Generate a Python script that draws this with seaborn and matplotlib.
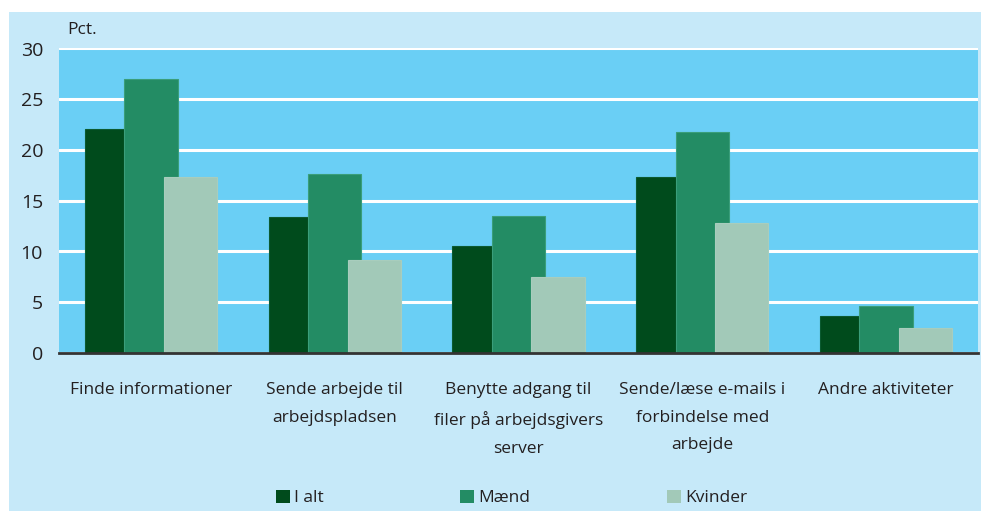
import matplotlib
matplotlib.use("Agg")
import matplotlib.pyplot as plt
import seaborn as sns
import pandas as pd
from matplotlib.patches import Rectangle, Patch

categories = ["Finde informationer",
              "Sende arbejde til\narbejdspladsen",
              "Benytte adgang til\nfiler på arbejdsgivers\nserver",
              "Sende/læse e-mails i\nforbindelse med\narbejde",
              "Andre aktiviteter"]
series_names = ["I alt", "Mænd", "Kvinder"]
i_alt = [22.1, 13.4, 10.5, 17.3, 3.6]
maend = [27.0, 17.6, 13.5, 21.8, 4.6]
kvinder = [17.3, 9.2, 7.5, 12.8, 2.5]
yticks = [0, 5, 10, 15, 20, 25, 30]

colors = ["#004B1C", "#238C64", "#A2C9B8"]
edge_colors = ["#0B5A30", "#3A9E7A", "#A8CDBD"]

sns.set_theme(style="white")
plt.rcParams['font.family'] = ['Open Sans', 'DejaVu Sans']
txt = "#231F20"

df = pd.DataFrame({
    "cat": categories * 3,
    "serie": [s for s in series_names for _ in categories],
    "val": i_alt + maend + kvinder,
})

fig = plt.figure(figsize=(9.81, 5.11), dpi=100)
fig.patch.set_facecolor("white")
fig.patches.append(Rectangle((9 / 981, 0), 1 - 9 / 981, 1 - 12 / 511,
                             transform=fig.transFigure, facecolor="#C6E9F9",
                             edgecolor="none", zorder=-10))

ax = fig.add_axes([59 / 981, 1 - 353 / 511, (978 - 59) / 981, (353 - 48.5) / 511])
ax.set_facecolor("#6ACFF5")

sns.barplot(data=df, x="cat", y="val", hue="serie", order=categories,
            hue_order=series_names, palette=colors, width=0.645,
            saturation=1, ax=ax, legend=False)

new_w = 0.29
zorders = [3, 4, 5]
n = len(categories)
for i, p in enumerate(ax.patches[: 3 * n]):
    s = i // n
    cx = p.get_x() + p.get_width() / 2
    p.set_width(new_w)
    p.set_x(cx - new_w / 2)
    p.set_zorder(zorders[s])
    p.set_edgecolor(edge_colors[s])
    p.set_linewidth(0.8)

ax.set_xlim(-0.5, len(categories) - 0.5)
ax.set_ylim(0, 30)
ax.set_yticks(yticks)
ax.set_yticklabels([str(v) for v in yticks], fontsize=14, color=txt)
ax.yaxis.grid(True, color="white", linewidth=2.2)
ax.set_axisbelow(True)
ax.tick_params(axis="y", length=0, pad=11.5)
ax.tick_params(axis="x", length=0, pad=21)
for lbl in ax.get_xticklabels():
    lbl.set_fontsize(12.5)
    lbl.set_color(txt)
    lbl.set_linespacing(1.95)
ax.set_xlabel("")
ax.set_ylabel("")
for sp in ["top", "right", "left"]:
    ax.spines[sp].set_visible(False)
ax.spines["bottom"].set_color("#333333")
ax.spines["bottom"].set_linewidth(2)
ax.spines["bottom"].set_zorder(10)

fig.text(67 / 981, 1 - 30 / 511, "Pct.", fontsize=12.5, color=txt,
         ha="left", va="center")

handles = [Patch(facecolor=c, edgecolor="none") for c in colors]
fig.legend(handles, series_names, loc="center left",
           bbox_to_anchor=(276 / 981, 1 - 498 / 511),
           ncol=3, frameon=False, fontsize=12.5, handlelength=0.8, handleheight=0.8,
           handletextpad=0.25, columnspacing=7.85, labelcolor=txt,
           borderpad=0, borderaxespad=0)

fig.savefig("out.png", dpi=100)
